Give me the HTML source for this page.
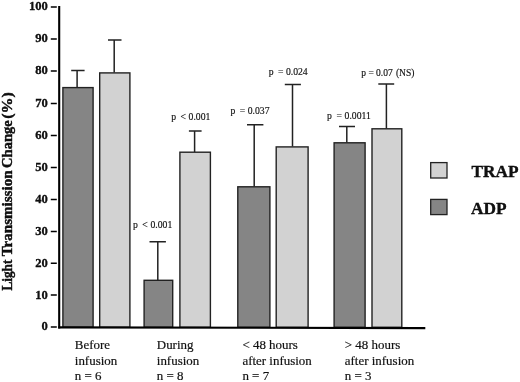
<!DOCTYPE html>
<html><head><meta charset="utf-8">
<style>
html,body{margin:0;padding:0;background:#fff;}
svg{display:block;will-change:transform;}
text{font-family:"Liberation Serif",serif;fill:#111;}
.b{font-weight:bold;}
</style></head><body>
<svg width="520" height="382" viewBox="0 0 520 382">
<rect width="520" height="382" fill="#fff"/>
<!-- bars -->
<g stroke="#222" stroke-width="1.4">
<rect x="62.9" y="87.6" width="30.2" height="239.7" fill="#858585"/>
<rect x="99.7" y="72.9" width="30.2" height="254.4" fill="#d2d2d2"/>
<rect x="144.1" y="280.3" width="28.6" height="47.0" fill="#858585"/>
<rect x="179.9" y="152.2" width="30.5" height="175.1" fill="#d2d2d2"/>
<rect x="237.8" y="186.8" width="32.1" height="140.5" fill="#858585"/>
<rect x="276.2" y="146.9" width="31.9" height="180.4" fill="#d2d2d2"/>
<rect x="334.1" y="142.8" width="31" height="184.5" fill="#858585"/>
<rect x="372" y="128.8" width="29.8" height="198.5" fill="#d2d2d2"/>
</g>
<!-- error bars -->
<g stroke="#222" stroke-width="1.5" fill="none">
<path d="M77.1 87.5V70.4M71.2 70.4H84.6"/>
<path d="M114.2 72.5V39.9M108 39.9H121.5"/>
<path d="M157.8 280V241.7M149.5 241.7H165.9"/>
<path d="M194.6 152V131M188.9 131H201.6"/>
<path d="M254.2 186.5V124.8M247 124.8H263.4"/>
<path d="M292.5 146.5V84.6M284.8 84.6H300.9"/>
<path d="M346.8 142.5V126.4M339 126.4H355"/>
<path d="M386.4 128.5V83.9M378.3 83.9H394.2"/>
</g>
<!-- axes -->
<g stroke="#000" stroke-width="2.1" fill="none">
<path d="M59.2 6V328.6"/>
<path d="M58.2 327.4L425.3 328.1"/>
</g>
<g stroke="#000" stroke-width="1.5">
<path d="M50.8 7H56.8M50.8 39H56.8M50.8 71H56.8M50.8 103.6H56.8M50.8 135.5H56.8M50.8 167.5H56.8M50.8 199.5H56.8M50.8 231.4H56.8M50.8 263.3H56.8M50.8 295.1H56.8M50.8 327H56.8"/>
</g>
<!-- y tick labels -->
<g class="b" font-size="12.6" text-anchor="end" stroke="#000" stroke-width="0.3" fill="#000">
<text transform="translate(47.9,10.4) scale(1,1.06)">100</text>
<text transform="translate(47.9,42.4) scale(1,1.06)">90</text>
<text transform="translate(47.9,74.4) scale(1,1.06)">80</text>
<text transform="translate(47.9,107.0) scale(1,1.06)">70</text>
<text transform="translate(47.9,138.9) scale(1,1.06)">60</text>
<text transform="translate(47.9,170.9) scale(1,1.06)">50</text>
<text transform="translate(47.9,202.9) scale(1,1.06)">40</text>
<text transform="translate(47.9,234.8) scale(1,1.06)">30</text>
<text transform="translate(47.9,266.7) scale(1,1.06)">20</text>
<text transform="translate(47.9,298.5) scale(1,1.06)">10</text>
<text transform="translate(47.9,330.4) scale(1,1.06)">0</text>
</g>
<g class="b" font-size="14.6" stroke="#000" stroke-width="0.4" fill="#000" transform="translate(12.4,0) rotate(-90)"><text x="-290.52" y="0" textLength="30.84" lengthAdjust="spacingAndGlyphs">Light</text><text x="-256.34" y="0" textLength="85.88" lengthAdjust="spacingAndGlyphs">Transmission</text><text x="-167.92" y="0" textLength="47.63" lengthAdjust="spacingAndGlyphs">Change</text><text x="-118.71" y="0" textLength="26.57" lengthAdjust="spacingAndGlyphs">(%)</text></g>
<!-- x labels -->
<g font-size="12.95" stroke="#111" stroke-width="0.2">
<g transform="translate(74.8,0)">
<text transform="translate(0,349.4) scale(1,0.93)">Before</text>
<text transform="translate(0,365.3) scale(1,0.93)">infusion</text>
<text transform="translate(0,380.4) scale(1,0.93)">n = 6</text>
</g>
<g transform="translate(156.8,0)">
<text transform="translate(0,349.4) scale(1,0.93)">During</text>
<text transform="translate(0,365.3) scale(1,0.93)">infusion</text>
<text transform="translate(0,380.4) scale(1,0.93)">n = 8</text>
</g>
<g transform="translate(242.4,0)">
<text transform="translate(0,349.4) scale(1,0.93)">&lt; 48 hours</text>
<text transform="translate(0,365.3) scale(1,0.93)">after infusion</text>
<text transform="translate(0,380.4) scale(1,0.93)">n = 7</text>
</g>
<g transform="translate(344.8,0)">
<text transform="translate(0,349.4) scale(1,0.93)">&gt; 48 hours</text>
<text transform="translate(0,365.3) scale(1,0.93)">after infusion</text>
<text transform="translate(0,380.4) scale(1,0.93)">n = 3</text>
</g>
</g>
<!-- p labels -->
<g font-size="9.7" stroke="#111" stroke-width="0.15">
<text y="228.1"><tspan x="133">p</tspan><tspan x="142.2">&lt;</tspan><tspan x="150.5">0.001</tspan></text>
<text y="120.4"><tspan x="171.2">p</tspan><tspan x="180.4">&lt;</tspan><tspan x="188.6">0.001</tspan></text>
<text y="114.4"><tspan x="230.6">p</tspan><tspan x="239.7">=</tspan><tspan x="247.7">0.037</tspan></text>
<text y="75.4"><tspan x="268.7">p</tspan><tspan x="277.9">=</tspan><tspan x="285.9">0.024</tspan></text>
<text y="119.4"><tspan x="327">p</tspan><tspan x="336.4">=</tspan><tspan x="344.6">0.0011</tspan></text>
<text y="75.7" font-size="9.5"><tspan x="361.3">p</tspan><tspan x="368.6">=</tspan><tspan x="376.1">0.07</tspan><tspan x="395.9">(NS)</tspan></text>
</g>
<!-- legend -->
<g stroke="#222" stroke-width="1.3">
<rect x="430.7" y="162.6" width="16.3" height="15.4" fill="#d2d2d2"/>
<rect x="430.7" y="199.4" width="16.3" height="15.2" fill="#858585"/>
</g>
<g class="b" font-size="17.3" stroke="#000" stroke-width="0.35" fill="#000">
<text transform="translate(471.4,177.4) scale(1,1.02)">TRAP</text>
<text transform="translate(471,214.2) scale(1,1.02)">ADP</text>
</g>
</svg>
</body></html>
